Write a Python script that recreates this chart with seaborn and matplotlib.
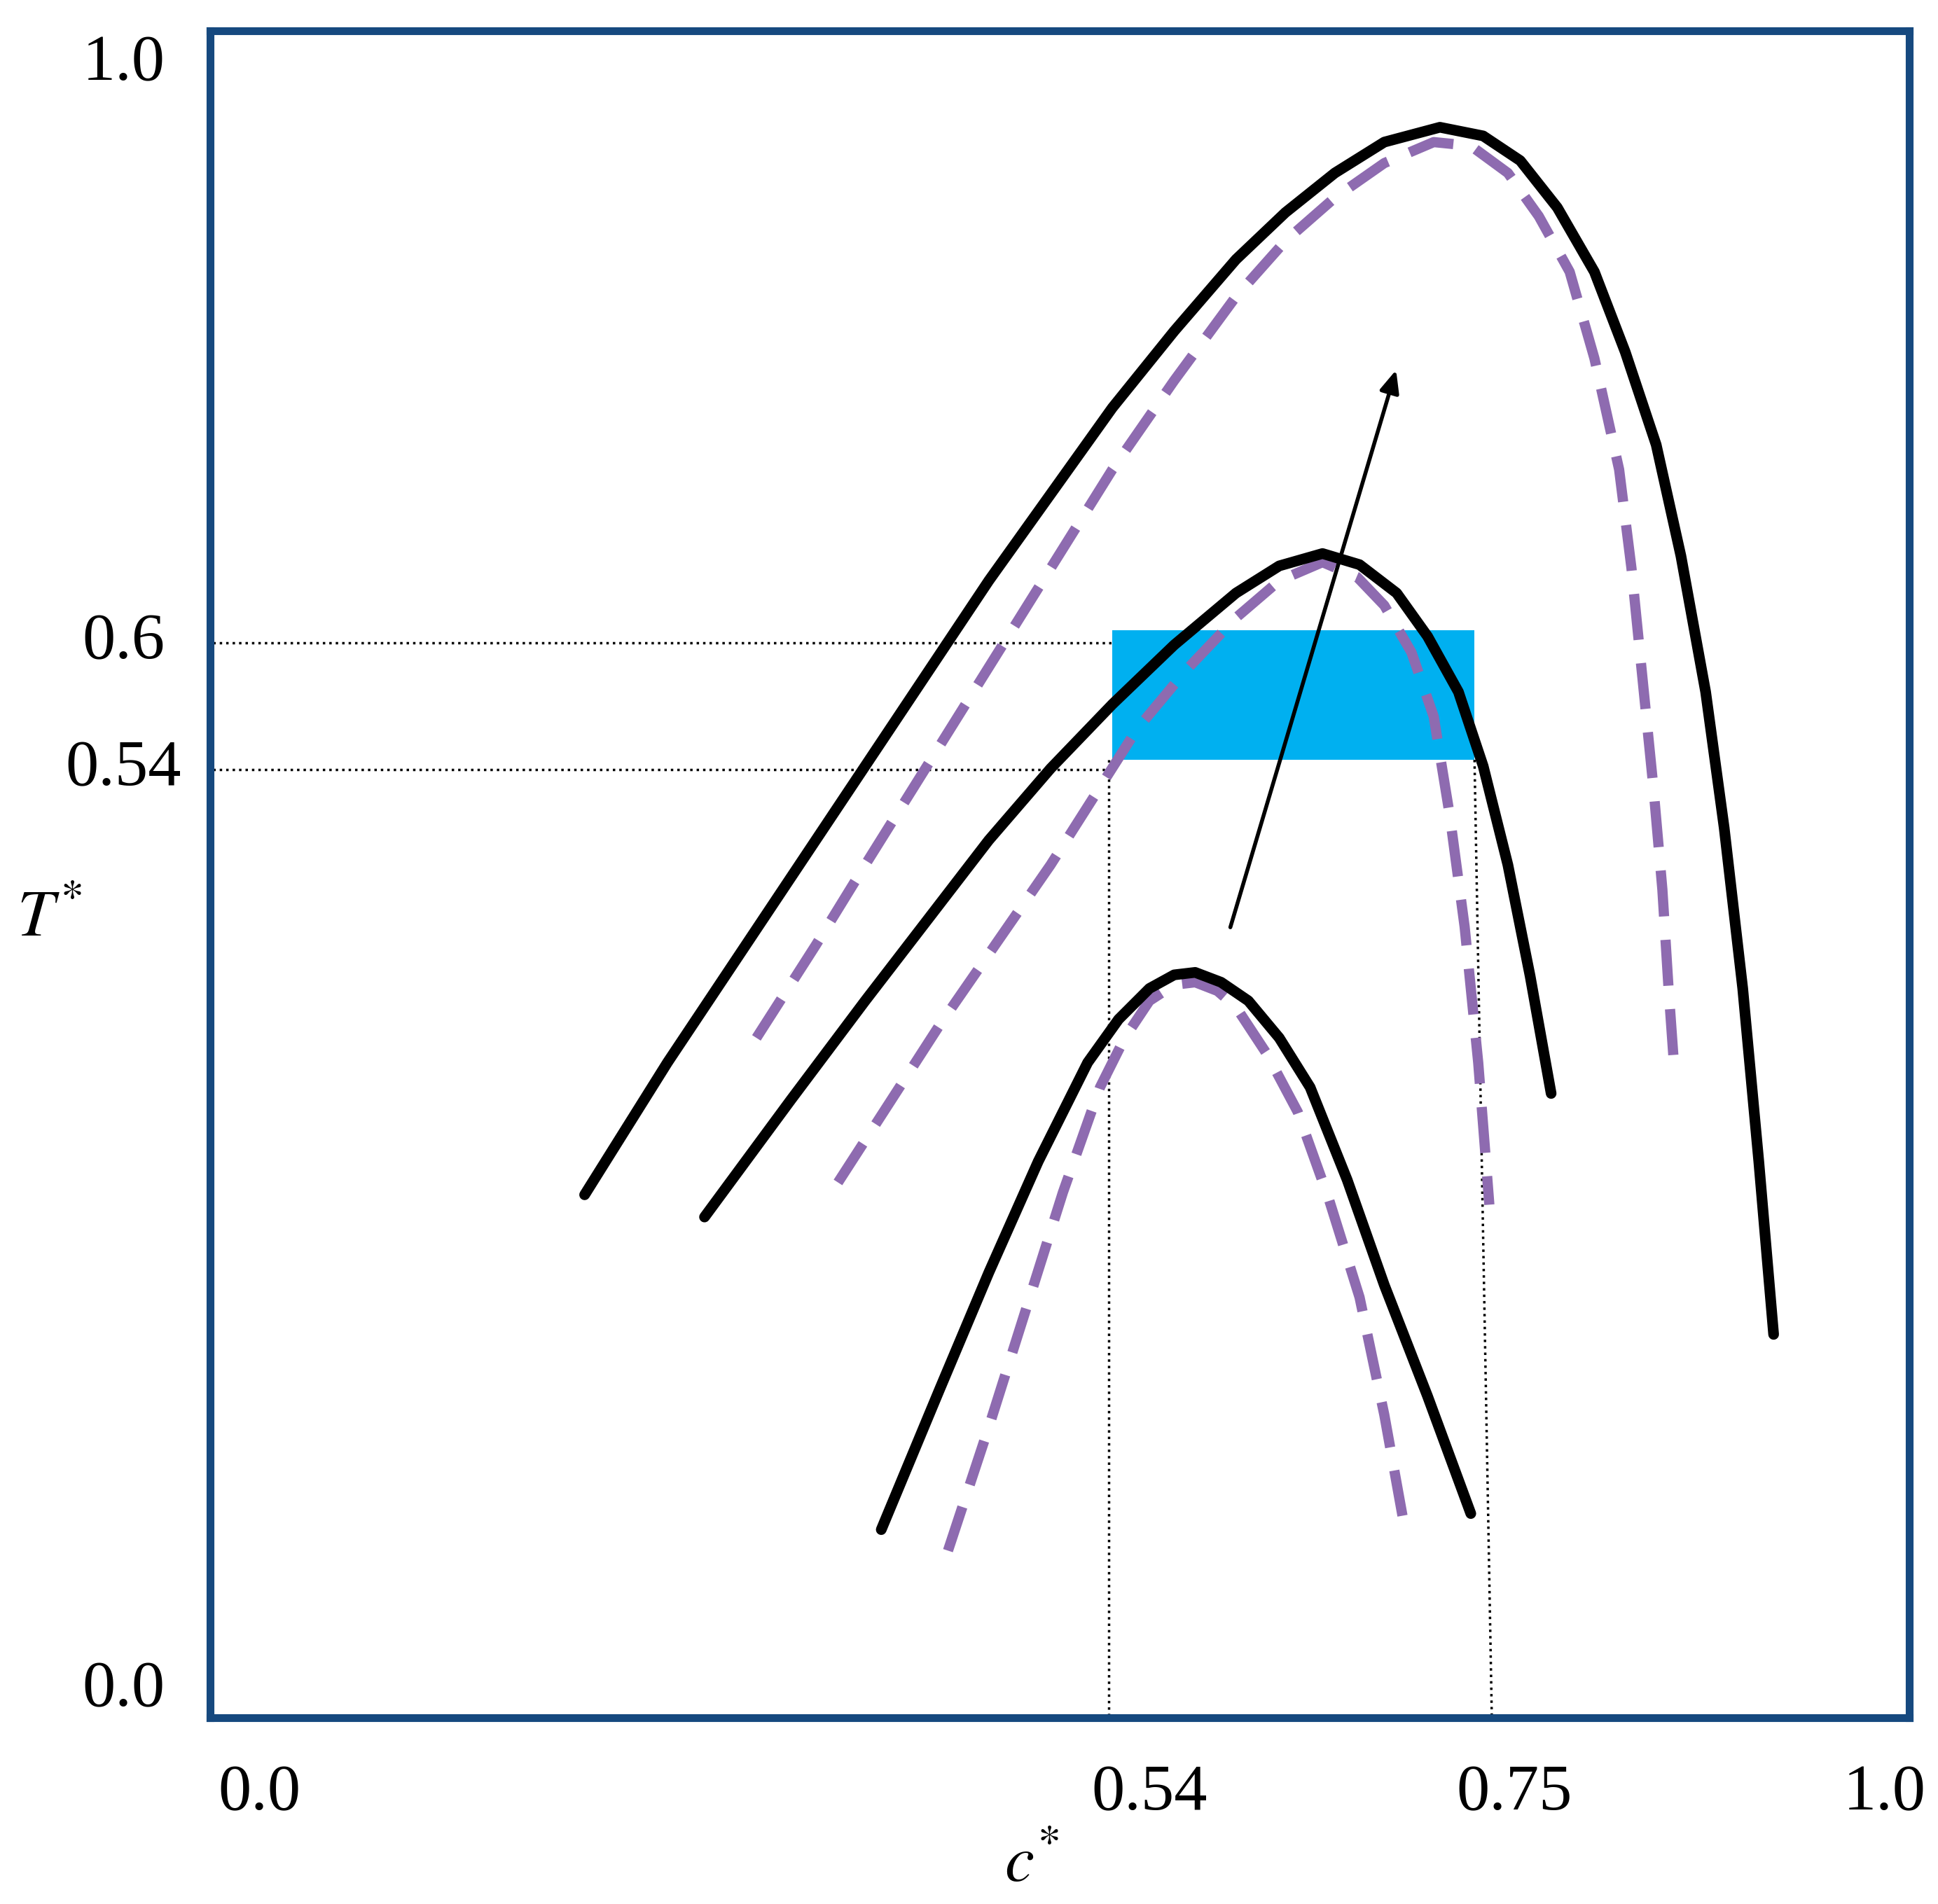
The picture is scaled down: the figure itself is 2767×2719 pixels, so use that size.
import matplotlib
matplotlib.use("Agg")
import matplotlib.pyplot as plt
import seaborn as sns
import numpy as np
import pandas as pd

sns.set_theme(style="white")
plt.rcParams['font.family'] = ['Liberation Serif', 'DejaVu Serif']
plt.rcParams['mathtext.fontset'] = 'stix'
plt.rcParams['text.color'] = 'black'

# reference pixel frame of schematic (display scale)
W, H = 1568, 1541
X0, X1, Y0, Y1 = 170, 1545, 1390, 25
def cx(x): return (np.asarray(x, float) - X0) / (X1 - X0)
def ty(y): return (Y0 - np.asarray(y, float)) / (Y0 - Y1)

outer_solid_x = [473, 540, 600, 650, 700, 750, 800, 850, 900, 950, 1000, 1040, 1080, 1120, 1165, 1200, 1230, 1260, 1290, 1315, 1340, 1360, 1380, 1395, 1410, 1423, 1435]
outer_solid_y = [967, 860, 770, 695, 620, 545, 470, 400, 330, 268, 210, 172, 140, 115, 103, 110, 130, 168, 220, 285, 360, 450, 560, 670, 800, 940, 1080]
outer_dash_x = [612, 660, 700, 750, 800, 850, 900, 950, 1000, 1040, 1080, 1120, 1160, 1190, 1220, 1245, 1270, 1290, 1310, 1320, 1330, 1338, 1345, 1350, 1355]
outer_dash_y = [840, 765, 700, 620, 540, 460, 380, 308, 240, 195, 160, 132, 115, 118, 140, 175, 220, 290, 380, 460, 560, 640, 720, 800, 870]
mid_solid_x = [570, 640, 700, 750, 800, 850, 900, 950, 1000, 1035, 1070, 1100, 1130, 1155, 1180, 1200, 1220, 1238, 1255]
mid_solid_y = [985, 890, 810, 745, 680, 622, 570, 522, 480, 458, 448, 457, 480, 515, 560, 620, 700, 790, 885]
mid_dash_x = [678, 720, 760, 805, 850, 885, 920, 960, 1000, 1035, 1070, 1098, 1120, 1142, 1160, 1173, 1185, 1196, 1205]
mid_dash_y = [957, 892, 830, 765, 700, 645, 590, 542, 500, 470, 455, 467, 490, 528, 580, 660, 750, 860, 975]
in_solid_x = [713, 760, 800, 840, 880, 905, 930, 950, 967, 988, 1010, 1035, 1060, 1090, 1120, 1155, 1190]
in_solid_y = [1238, 1125, 1030, 940, 860, 825, 800, 789, 787, 795, 810, 840, 880, 955, 1040, 1130, 1225]
in_dash_x = [767, 800, 830, 860, 890, 910, 930, 950, 967, 985, 1000, 1025, 1050, 1075, 1100, 1120, 1138]
in_dash_y = [1255, 1155, 1060, 965, 880, 840, 810, 797, 795, 802, 815, 853, 900, 970, 1050, 1145, 1245]

y_tick_labels = ["1.0", "0.6", "0.54", "0.0"]
y_tick_pos = [52, 520, 623, 1368]
x_tick_labels = ["0.0", "0.54", "0.75", "1.0"]
x_tick_pos = [210, 930, 1225, 1525]

fig = plt.figure(figsize=(27.67, 27.19), dpi=100)
ax = fig.add_axes([X0 / W, 1 - Y0 / H, (X1 - X0) / W, (Y0 - Y1) / H])
ax.set_xlim(0, 1); ax.set_ylim(0, 1)
ax.set_xticks([]); ax.set_yticks([])
for s in ax.spines.values():
    s.set_color('#16497f'); s.set_linewidth(8)

ax.fill_between(cx([900, 1193]), ty(615), ty(510), color='#00b0f0', lw=0, zorder=1)
for yy in [520, 623]:
    ax.plot(cx([172, 900]), ty([yy, yy]), ls=':', color='black', lw=2.5, zorder=2)
ax.plot(cx([897, 897]), ty([615, 1390]), ls=':', color='black', lw=2.5, zorder=2)
ax.plot(cx([1193, 1207]), ty([615, 1390]), ls=':', color='black', lw=2.5, zorder=2)

curves = [
    (outer_solid_x, outer_solid_y, 'solid'), (outer_dash_x, outer_dash_y, 'dash'),
    (mid_solid_x, mid_solid_y, 'solid'), (mid_dash_x, mid_dash_y, 'dash'),
    (in_solid_x, in_solid_y, 'solid'), (in_dash_x, in_dash_y, 'dash'),
]
for xs, ys, kind in curves:
    df = pd.DataFrame({'c': cx(xs), 'T': ty(ys)})
    if kind == 'solid':
        sns.lineplot(data=df, x='c', y='T', sort=False, ax=ax, color='black', lw=11, zorder=4)
        ax.lines[-1].set_solid_joinstyle('round')
    else:
        sns.lineplot(data=df, x='c', y='T', sort=False, ax=ax, color='#8e6bb0', lw=10.5, zorder=3)
        ax.lines[-1].set_dashes([4.5, 2.3])

ax.annotate('', xy=(cx(1130), ty(298)), xytext=(cx(995), ty(752)),
            arrowprops=dict(arrowstyle='-|>,head_length=1.6,head_width=0.7', color='black', lw=4), zorder=5)
ax.set_xlabel(''); ax.set_ylabel('')

for lab, yp in zip(y_tick_labels, y_tick_pos):
    fig.text(100 / W, 1 - yp / H, lab, ha='center', va='center', fontsize=68, color='black')
for lab, xp in zip(x_tick_labels, x_tick_pos):
    fig.text(xp / W, 1 - 1452 / H, lab, ha='center', va='center', fontsize=68, color='black')
fig.text(40 / W, 1 - 745 / H, r'$T^{*}$', ha='center', va='center', fontsize=68, color='black')
fig.text(835 / W, 1 - 1510 / H, r'$c^{*}$', ha='center', va='center', fontsize=68, color='black')

fig.savefig('out.png', dpi=100)
